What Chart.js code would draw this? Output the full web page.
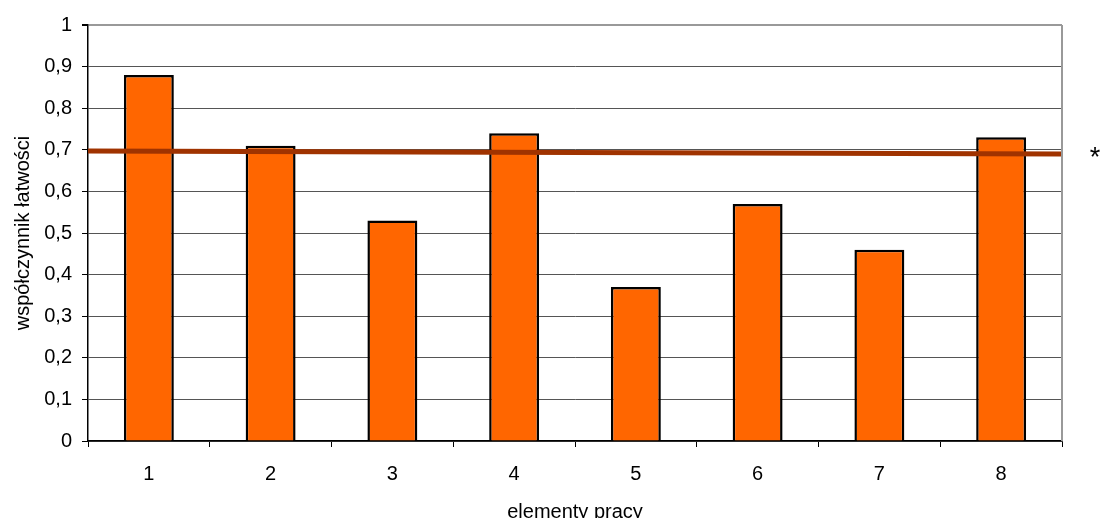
<!DOCTYPE html>
<html>
<head>
<meta charset="utf-8">
<script src="https://cdn.jsdelivr.net/npm/chart.js@4/dist/chart.umd.min.js"></script>
<style>
  html, body { margin: 0; padding: 0; background: #fff; }
  #wrap { width: 1104px; height: 518px; }
</style>
</head>
<body>
<div id="wrap"><canvas id="myChart" width="1104" height="518"></canvas></div>
<script>
// Dane wykresu
const categories = ["1", "2", "3", "4", "5", "6", "7", "8"];
const easiness = [0.88, 0.71, 0.53, 0.74, 0.37, 0.57, 0.46, 0.73];
// linia odniesienia (od lewej do prawej krawędzi obszaru wykresu)
const refLineX = [0, 1];
const refLineY = [0.697, 0.69];
const yTicks = [0, 0.1, 0.2, 0.3, 0.4, 0.5, 0.6, 0.7, 0.8, 0.9, 1];

const FONT = "'Liberation Sans', Arial, sans-serif";

// ramka z prawej strony + gwiazdka
const extras = {
  id: "extras",
  afterDraw(chart) {
    const c = chart.ctx, a = chart.chartArea;
    c.save();
    c.strokeStyle = "#999";
    c.lineWidth = 2;
    c.beginPath();
    c.moveTo(a.right, a.top);
    c.lineTo(a.right, a.bottom);
    c.stroke();
    c.fillStyle = "#000";
    c.font = "27px " + FONT;
    c.textAlign = "center";
    c.textBaseline = "middle";
    const y = chart.scales.y.getPixelForValue(refLineY[1]);
    c.fillText("*", 1095, y + 5);
    c.restore();
  }
};

const data = {
  labels: categories,
  datasets: [
    {
      type: "line",
      label: "średnia",
      data: refLineX.map((x, i) => ({ x: x, y: refLineY[i] })),
      xAxisID: "x2",
      borderColor: "#A03300",
      borderWidth: 5,
      pointRadius: 0,
      order: 0,
    },
    {
      type: "bar",
      label: "współczynnik łatwości",
      data: easiness,
      backgroundColor: "#FF6600",
      borderColor: "#000",
      borderWidth: 2.5,
      grouped: false,
      barPercentage: 0.82,
      categoryPercentage: 0.5,
      order: 1,
    },
  ],
};

const config = {
  data: data,
  options: {
    responsive: false,
    animation: false,
    layout: { padding: { top: 25, right: 42, left: 0, bottom: 0 } },
    plugins: {
      legend: { display: false },
      tooltip: { enabled: false },
    },
    scales: {
      x: {
        type: "category",
        offset: true,
        afterFit(s) { s.height = 77; },
        grid: {
          offset: true,
          drawOnChartArea: false,
          drawTicks: true,
          tickLength: 6,
          tickColor: "#000",
        },
        border: { color: "#000", width: 1.5 },
        ticks: { color: "#000", font: { family: FONT, size: 20 }, padding: 15 },
        title: {
          display: true,
          text: "elementy pracy",
          color: "#000",
          font: { family: FONT, size: 20 },
          padding: { top: 0, bottom: -6 },
        },
      },
      x2: { type: "linear", min: 0, max: 1, display: false },
      y: {
        min: 0,
        max: 1,
        afterFit(s) { s.width = 88; },
        afterBuildTicks(s) { s.ticks = yTicks.map(v => ({ value: v })); },
        grid: {
          color: ctx => (ctx.tick && ctx.tick.value === 1 ? "#999" : "#555"),
          lineWidth: ctx => (ctx.tick && ctx.tick.value === 1 ? 2 : 1),
          tickLength: 6,
          tickColor: "#000",
        },
        border: { color: "#000", width: 1.5 },
        ticks: {
          color: "#000",
          font: { family: FONT, size: 20 },
          padding: 10,
          callback: v => String(v).replace(".", ","),
        },
        title: {
          display: true,
          text: "współczynnik łatwości",
          color: "#000",
          font: { family: FONT, size: 20 },
          padding: { top: 11, bottom: 0 },
        },
      },
    },
  },
  plugins: [extras],
};

const ctx = document.getElementById("myChart").getContext("2d");
new Chart(ctx, config);
</script>
</body>
</html>
